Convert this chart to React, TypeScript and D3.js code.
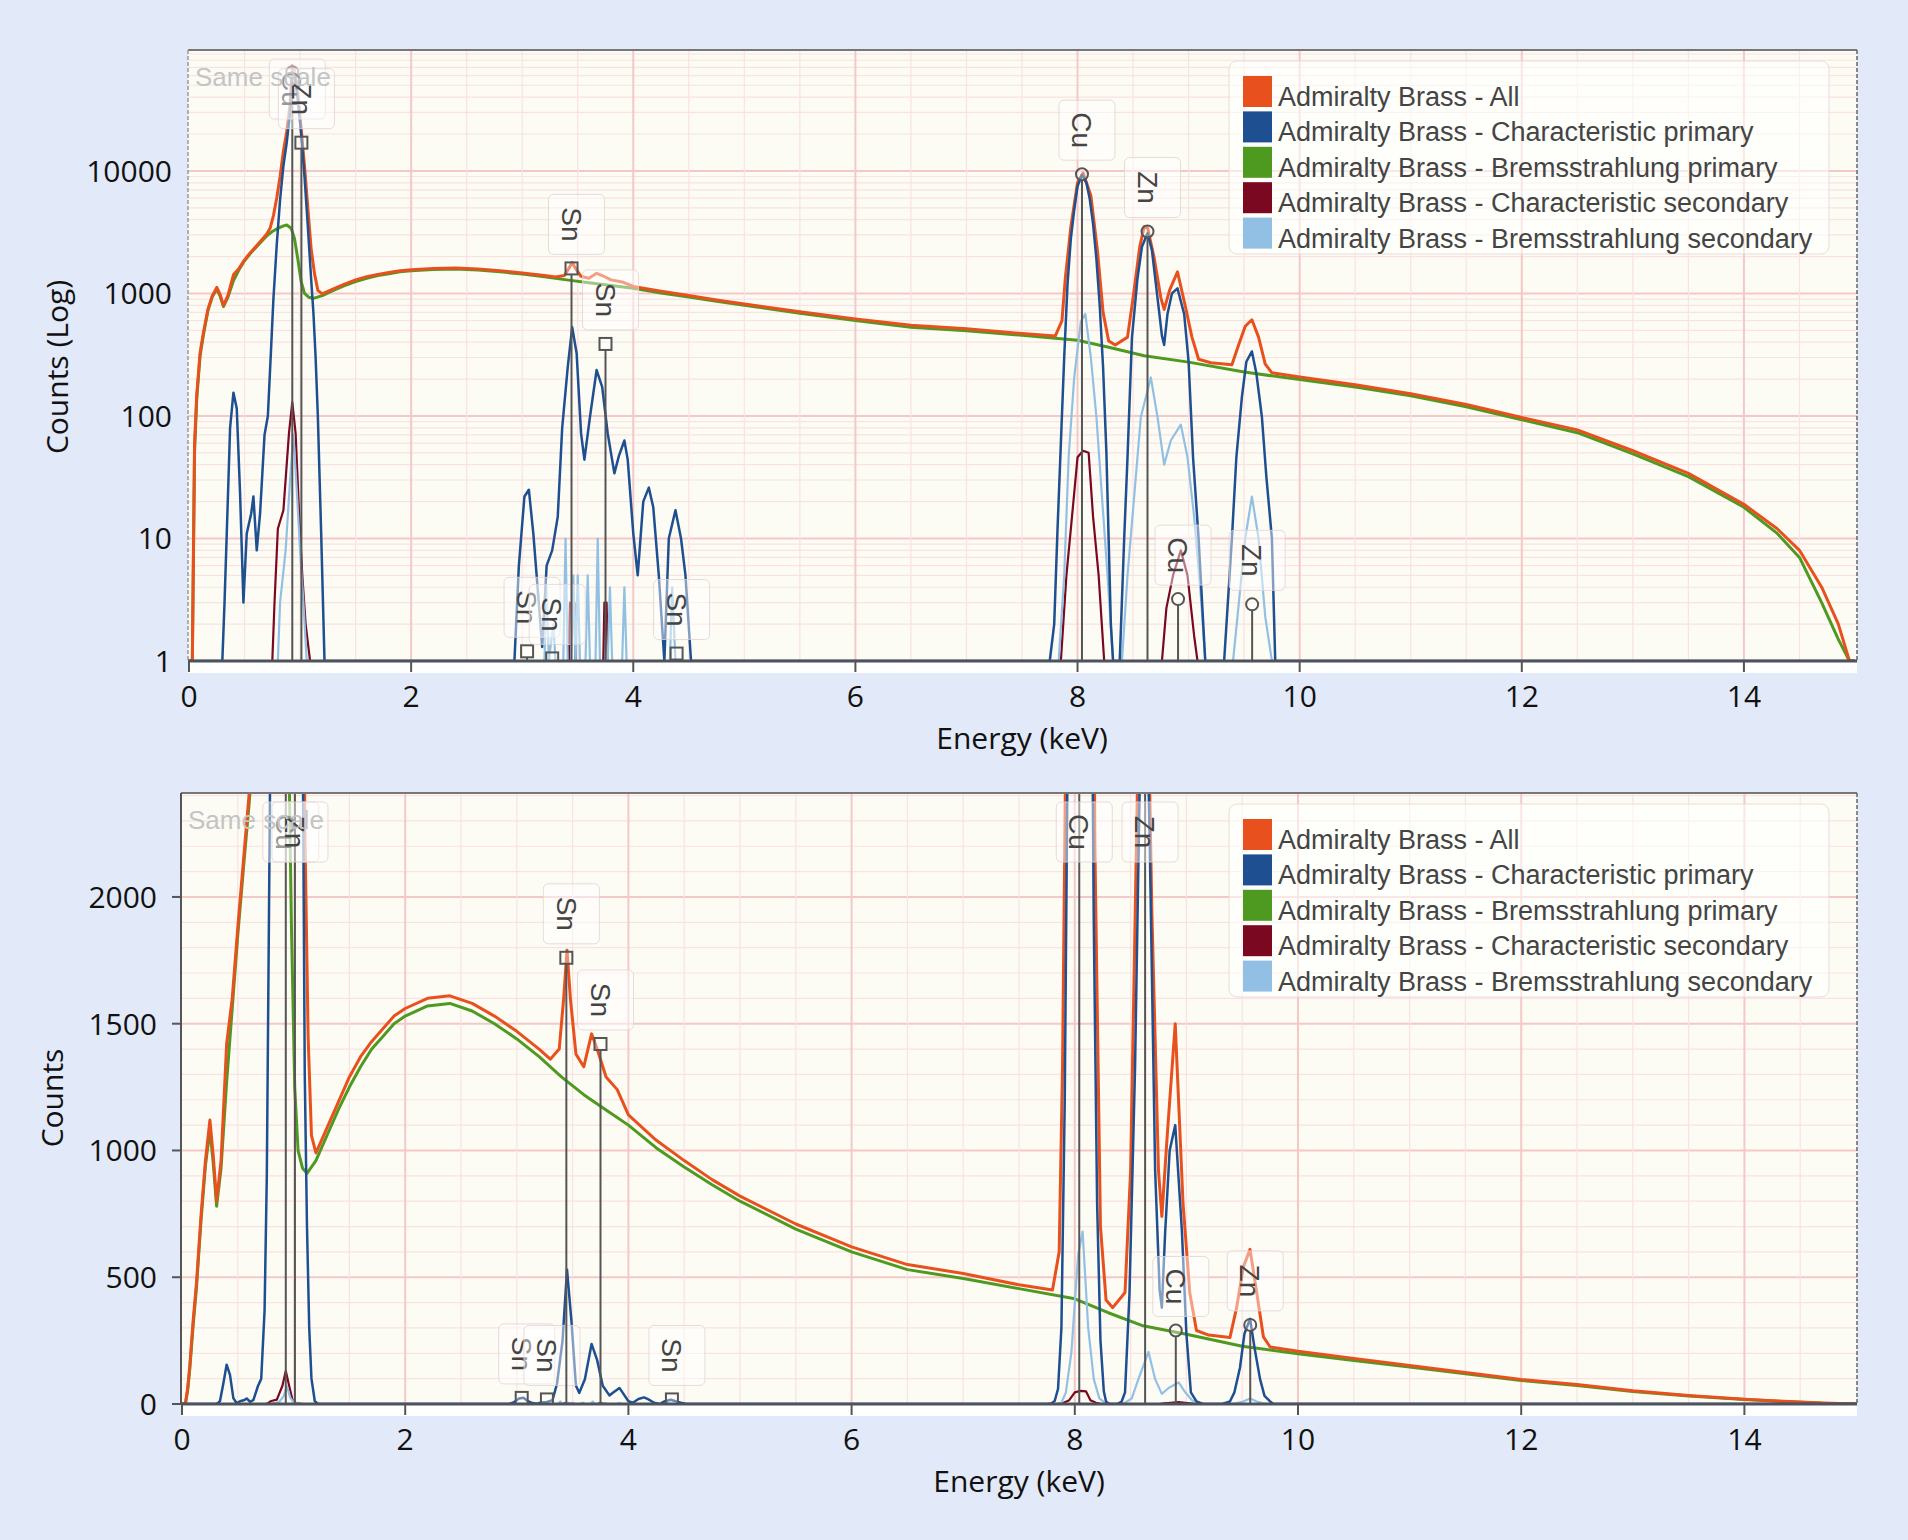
import React from 'react';
import * as d3 from 'd3';

type Pt = [number, number];

// spectra: [energy keV, counts]
const allSpectrum: Pt[] = [
  [0, 0], [0.03, 0], [0.05, 60], [0.07, 150], [0.1, 330], [0.13, 480], [0.17, 740], [0.21, 960], [0.25, 1120],
  [0.28, 980], [0.31, 800], [0.35, 960], [0.4, 1420], [0.45, 1600], [0.5, 1880], [0.55, 2140], [0.6, 2400],
  [0.65, 2700], [0.7, 3050], [0.73, 3400], [0.76, 4300], [0.79, 6000], [0.82, 9000], [0.85, 14500], [0.88, 21000],
  [0.91, 35000], [0.93, 72000], [0.95, 66000], [0.98, 42000], [1.01, 22000], [1.04, 11000], [1.07, 5000],
  [1.1, 2300], [1.13, 1450], [1.16, 1060], [1.2, 990], [1.3, 1090], [1.4, 1190], [1.5, 1290], [1.6, 1370],
  [1.7, 1430], [1.8, 1480], [1.9, 1530], [2.0, 1560], [2.2, 1600], [2.4, 1610], [2.6, 1580], [2.8, 1530],
  [3.0, 1470], [3.2, 1400], [3.3, 1360], [3.38, 1400], [3.42, 1600], [3.45, 1790], [3.48, 1600], [3.53, 1380],
  [3.6, 1330], [3.67, 1460], [3.72, 1400], [3.8, 1290], [3.9, 1240], [4.0, 1140], [4.25, 1040], [4.5, 960],
  [4.75, 885], [5.0, 820], [5.5, 710], [6.0, 620], [6.5, 550], [7.0, 515], [7.5, 470], [7.8, 450], [7.86, 600],
  [7.89, 1330], [7.94, 3500], [8.0, 8000], [8.05, 9600], [8.12, 6300], [8.18, 2200], [8.23, 700], [8.28, 410],
  [8.34, 380], [8.45, 440], [8.5, 920], [8.56, 2400], [8.6, 3500], [8.63, 3450], [8.69, 1950], [8.75, 920],
  [8.78, 740], [8.83, 1070], [8.9, 1500], [8.97, 790], [9.03, 440], [9.09, 290], [9.2, 272], [9.39, 262],
  [9.45, 380], [9.51, 540], [9.57, 610], [9.63, 440], [9.69, 265], [9.75, 225], [10.0, 208], [10.5, 180],
  [11.0, 152], [11.5, 124], [12.0, 97], [12.5, 77], [13.0, 52], [13.5, 34], [14.0, 19], [14.3, 12], [14.5, 8],
  [14.7, 4], [14.85, 2], [14.95, 1], [15, 1],
];

const charPrimary: Pt[] = [
  [0, 0], [0.3, 0], [0.32, 3], [0.34, 11], [0.37, 80], [0.4, 155], [0.43, 115], [0.46, 23], [0.49, 3], [0.52, 11],
  [0.56, 16], [0.58, 22], [0.61, 8], [0.64, 16], [0.68, 70], [0.71, 100], [0.74, 370], [0.76, 900], [0.79, 2500],
  [0.82, 5800], [0.85, 11000], [0.88, 17000], [0.91, 30000], [0.93, 65000], [0.95, 60000], [0.98, 38000],
  [1.01, 20000], [1.04, 9000], [1.07, 3500], [1.1, 1300], [1.12, 700], [1.14, 300], [1.16, 100], [1.19, 11],
  [1.22, 0],
  [2.93, 0], [2.97, 6], [3.02, 22], [3.06, 25], [3.1, 11], [3.13, 5], [3.18, 1.3], [3.22, 6], [3.27, 8],
  [3.32, 15], [3.36, 80], [3.41, 250], [3.45, 530], [3.49, 325], [3.53, 72], [3.56, 44], [3.61, 98],
  [3.67, 237], [3.72, 173], [3.77, 72], [3.83, 34], [3.87, 47], [3.92, 63], [3.95, 44], [4.0, 11], [4.04, 5],
  [4.09, 20], [4.14, 26], [4.18, 18], [4.23, 5], [4.28, 0], [4.32, 10], [4.38, 17], [4.43, 10], [4.47, 5],
  [4.52, 0],
  [7.75, 0], [7.79, 2], [7.82, 12], [7.85, 60], [7.88, 300], [7.91, 1200], [7.94, 2800], [7.97, 4800],
  [8.0, 7500], [8.04, 9300], [8.08, 8000], [8.11, 5900], [8.14, 3700], [8.17, 1900], [8.2, 790], [8.23, 250],
  [8.26, 50], [8.28, 10], [8.3, 2], [8.32, 0],
  [8.38, 0], [8.42, 10], [8.45, 46], [8.49, 436], [8.54, 1330], [8.58, 2400], [8.63, 3100], [8.67, 2250],
  [8.72, 920], [8.76, 450], [8.78, 380], [8.81, 680], [8.85, 1000], [8.9, 1100], [8.96, 680], [9.0, 277],
  [9.04, 46], [9.09, 10], [9.15, 0],
  [9.32, 0], [9.39, 10], [9.43, 46], [9.48, 143], [9.52, 277], [9.57, 336], [9.61, 223], [9.66, 98],
  [9.7, 32], [9.75, 10], [9.78, 0], [15, 0],
];

const bremsPrimary: Pt[] = [
  [0, 0], [0.03, 0], [0.05, 50], [0.07, 140], [0.1, 310], [0.13, 460], [0.17, 720], [0.21, 940], [0.25, 1080],
  [0.28, 950], [0.31, 780], [0.35, 930], [0.4, 1270], [0.45, 1560], [0.5, 1850], [0.55, 2110], [0.6, 2360],
  [0.65, 2640], [0.7, 2950], [0.75, 3200], [0.8, 3400], [0.85, 3560], [0.88, 3620], [0.92, 3400], [0.95, 2800],
  [0.98, 1900], [1.01, 1250], [1.04, 1000], [1.08, 930], [1.12, 910], [1.2, 960], [1.3, 1060], [1.4, 1160],
  [1.5, 1250], [1.6, 1330], [1.7, 1400], [1.8, 1450], [1.9, 1500], [2.0, 1530], [2.2, 1570], [2.4, 1580],
  [2.6, 1550], [2.8, 1500], [3.0, 1440], [3.2, 1370], [3.4, 1290], [3.6, 1220], [3.8, 1160], [4.0, 1100],
  [4.25, 1010], [4.5, 935], [4.75, 865], [5.0, 800], [5.5, 690], [6.0, 600], [6.5, 530], [7.0, 495],
  [7.5, 455], [8.0, 415], [8.3, 360], [8.6, 310], [9.0, 275], [9.5, 228], [10.0, 198], [10.5, 172],
  [11.0, 146], [11.5, 119], [12.0, 93], [12.5, 73], [13.0, 49], [13.5, 32], [14.0, 18], [14.3, 11], [14.5, 7],
  [14.7, 3], [14.85, 1.5], [14.95, 1], [15, 1],
];

const charSecondary: Pt[] = [
  [0.75, 0], [0.77, 3], [0.8, 12], [0.85, 17], [0.9, 72], [0.93, 130], [0.96, 72], [0.99, 17], [1.02, 5],
  [1.05, 2], [1.09, 0],
  [3.42, 0], [3.43, 3], [3.47, 3], [3.48, 0], [3.73, 0], [3.74, 3], [3.76, 3], [3.77, 0],
  [7.85, 0], [7.9, 5], [7.95, 15], [8.0, 46], [8.05, 52], [8.1, 50], [8.14, 15], [8.19, 5], [8.24, 0],
  [8.76, 0], [8.8, 2.7], [8.86, 5], [8.93, 8], [8.99, 5], [9.05, 1.6], [9.08, 0],
];

const bremsSecondary: Pt[] = [
  [0.8, 0], [0.82, 3], [0.87, 8], [0.91, 30], [0.94, 70], [0.97, 25], [1.0, 8], [1.03, 3], [1.06, 0],
  [3.2, 0], [3.22, 4], [3.24, 0], [3.28, 2], [3.3, 0], [3.37, 0], [3.39, 10], [3.41, 0], [3.44, 0], [3.46, 5],
  [3.48, 0], [3.5, 5], [3.52, 0], [3.57, 0], [3.59, 5], [3.61, 0], [3.66, 0], [3.68, 10], [3.7, 0], [3.77, 0],
  [3.79, 4], [3.81, 0], [3.9, 0], [3.92, 4], [3.94, 0], [4.33, 0], [4.35, 4], [4.38, 0],
  [7.83, 0], [7.88, 5], [7.92, 46], [7.97, 206], [8.03, 590], [8.07, 680], [8.12, 300], [8.17, 98],
  [8.22, 22], [8.27, 5], [8.32, 0],
  [8.4, 0], [8.45, 5], [8.51, 22], [8.57, 98], [8.66, 206], [8.72, 98], [8.78, 40], [8.84, 63], [8.93, 85],
  [8.99, 46], [9.05, 15], [9.11, 3.4], [9.15, 0],
  [9.4, 0], [9.44, 2.3], [9.51, 10], [9.57, 22], [9.63, 10], [9.69, 2.3], [9.75, 0],
];

const seriesNames = [
  'Admiralty Brass - All',
  'Admiralty Brass - Characteristic primary',
  'Admiralty Brass - Bremsstrahlung primary',
  'Admiralty Brass - Characteristic secondary',
  'Admiralty Brass - Bremsstrahlung secondary',
];
const seriesColors = ['#e8501e', '#1d4f91', '#4e9a20', '#7a0820', '#91c0e4'];
const seriesData = [allSpectrum, charPrimary, bremsPrimary, charSecondary, bremsSecondary];
const drawOrder = [2, 0, 3, 4, 1];

// element line markers
const lineEnergies = [0.93, 1.012, 3.044, 3.27, 3.444, 3.75, 4.39, 8.04, 8.63, 8.905, 9.572];
const lineElements = ['Cu', 'Zn', 'Sn', 'Sn', 'Sn', 'Sn', 'Sn', 'Cu', 'Zn', 'Cu', 'Zn'];
const lineShapes = ['circle', 'square', 'square', 'square', 'square', 'square', 'square', 'circle', 'circle', 'circle', 'circle'];
const lineCountsLog = [64000, 17000, 1.2, 1.05, 1600, 387, 1.15, 9400, 3200, 3.2, 2.9];
const lineCountsLinear = [64000, 17000, 24, 18, 1760, 1420, 18, 9400, 3200, 290, 312];

const xTicks = [0, 2, 4, 6, 8, 10, 12, 14];
const logTicks = [1, 10, 100, 1000, 10000];
const linTicks = [0, 500, 1000, 1500, 2000];

const panels = [
  { id: 'top', left: 188, right: 1857, top: 50, axisY: 661, x0: 189, x1: 1855, log: true,
    yTitle: 'Counts (Log)', yTitleX: 57, yTitleY: 367, yMax: 97000, ticks: logTicks, labelGap: 16, tickLen: 0 },
  { id: 'bottom', left: 181, right: 1857, top: 793, axisY: 1404, x0: 182, x1: 1856, log: false,
    yTitle: 'Counts', yTitleX: 52, yTitleY: 1098, yMax: 2410, ticks: linTicks, labelGap: 24, tickLen: 9 },
];

const axisFont = '"Open Sans", sans-serif';
const labelFont = '"Liberation Sans", Arial, sans-serif';

function Panel({ cfg }: { cfg: typeof panels[number] }) {
  const x = d3.scaleLinear().domain([0, 15]).range([cfg.x0, cfg.x1]);
  const y: any = cfg.log
    ? d3.scaleLog().domain([1, cfg.yMax]).range([cfg.axisY, cfg.top])
    : d3.scaleLinear().domain([0, cfg.yMax]).range([cfg.axisY, cfg.top]);
  const yv = (v: number) => y(cfg.log ? Math.max(v, 1) : v);
  const line = d3.line<Pt>().x(d => x(d[0])).y(d => yv(d[1]));
  const counts = cfg.log ? lineCountsLog : lineCountsLinear;

  const vGrid = d3.range(0.5, 15, 0.5);
  let hGrid: { v: number; major: boolean }[] = [];
  if (cfg.log) {
    [1, 10, 100, 1000, 10000].forEach(dec => {
      for (let m = 1; m <= 9; m++) {
        const v = dec * m;
        if (v > 1 && v < cfg.yMax) hGrid.push({ v, major: m === 1 });
      }
    });
  } else {
    hGrid = d3.range(100, cfg.yMax, 100).map(v => ({ v, major: v % 500 === 0 }));
  }

  const clipId = `clip-${cfg.id}`;
  const w = cfg.right - cfg.left;
  const legendLeft = cfg.right - 628;
  const legendTop = cfg.top + 11;

  return (
    <g>
      <defs>
        <clipPath id={clipId}>
          <rect x={cfg.left} y={cfg.top} width={w} height={cfg.axisY - cfg.top} />
        </clipPath>
      </defs>
      <rect x={cfg.left} y={cfg.top} width={w} height={cfg.axisY - cfg.top} fill="#fdfcf4" />
      <rect x={cfg.left} y={cfg.axisY} width={w} height={12} fill="#ffffff" />

      {/* grid */}
      {hGrid.map((g, i) => (
        <line key={`h${i}`} x1={cfg.left} x2={cfg.right} y1={y(g.v)} y2={y(g.v)}
          stroke={g.major ? '#f5c8c8' : '#fae2e2'} strokeWidth={g.major ? 2 : 1.2} />
      ))}
      {vGrid.map((e, i) => (
        <line key={`v${i}`} x1={x(e)} x2={x(e)} y1={cfg.top} y2={cfg.axisY}
          stroke={e % 2 === 0 ? '#f5c8c8' : '#fae2e2'} strokeWidth={e % 2 === 0 ? 2 : 1.2} />
      ))}

      {/* spectra */}
      <g clipPath={`url(#${clipId})`}>
        {drawOrder.map(k => (
          <path key={k} d={line(seriesData[k]) || ''} fill="none" stroke={seriesColors[k]}
            strokeWidth={k === 0 || k === 2 ? 3 : k === 1 ? 2.5 : 2.2} strokeLinejoin="round" />
        ))}
      </g>

      {/* element markers */}
      <g clipPath={`url(#${clipId})`}>
        {lineEnergies.map((e, i) => {
          const mx = x(e);
          const my = yv(counts[i]);
          const cy = Math.max(my - 44, cfg.top + 39);
          return (
            <g key={`m${i}`}>
              <line x1={mx} x2={mx} y1={Math.max(my + 6, cfg.top)} y2={cfg.axisY} stroke="#555" strokeWidth={2} />
              {lineShapes[i] === 'circle'
                ? <circle cx={mx} cy={my} r={6} fill="rgba(255,255,255,0.35)" stroke="#555" strokeWidth={2} />
                : <rect x={mx - 6} y={my - 6} width={12} height={12} fill="rgba(255,255,255,0.35)" stroke="#555" strokeWidth={2} />}
              <rect x={mx + 5 - 28} y={cy - 30} width={56} height={60} rx={5}
                fill="rgba(255,255,255,0.45)" stroke="rgba(225,210,210,0.8)" strokeWidth={1} />
              <text transform={`translate(${mx},${cy}) rotate(90)`} textAnchor="middle" dy="0.35em"
                fontSize={28} fill="#444" fontFamily={labelFont}>{lineElements[i]}</text>
            </g>
          );
        })}
      </g>

      {/* frame */}
      <line x1={cfg.left} x2={cfg.right} y1={cfg.top} y2={cfg.top} stroke="#777" strokeWidth={2} />
      <line x1={cfg.right} x2={cfg.right} y1={cfg.top} y2={cfg.axisY} stroke="#666" strokeWidth={1.5} strokeDasharray="4,2" />
      {cfg.log
        ? <line x1={cfg.left} x2={cfg.left} y1={cfg.top} y2={cfg.axisY} stroke="#999" strokeWidth={1.5} strokeDasharray="4,2" />
        : <line x1={cfg.left} x2={cfg.left} y1={cfg.top} y2={cfg.axisY} stroke="#555" strokeWidth={2} />}
      <line x1={cfg.left} x2={cfg.right} y1={cfg.axisY} y2={cfg.axisY} stroke="#4d525c" strokeWidth={3} />

      {/* x axis */}
      {xTicks.map(t => (
        <g key={`xt${t}`}>
          <line x1={x(t)} x2={x(t)} y1={cfg.axisY} y2={cfg.axisY + 11} stroke="#555" strokeWidth={2} />
          <text x={x(t)} y={cfg.axisY + 46} textAnchor="middle" fontSize={30} fontFamily={axisFont} fill="#111">{t}</text>
        </g>
      ))}
      <text x={(cfg.x0 + cfg.x1) / 2} y={cfg.axisY + 88} textAnchor="middle" fontSize={30}
        fontFamily={axisFont} fill="#111">Energy (keV)</text>

      {/* y axis */}
      {cfg.ticks.map(t => (
        <g key={`yt${t}`}>
          {cfg.tickLen > 0 && (
            <line x1={cfg.left - cfg.tickLen} x2={cfg.left} y1={y(t)} y2={y(t)} stroke="#555" strokeWidth={2} />
          )}
          <text x={cfg.left - cfg.labelGap} y={y(t)} dy="0.36em" textAnchor="end" fontSize={30}
            fontFamily={axisFont} fill="#111">{t}</text>
        </g>
      ))}
      <text transform={`translate(${cfg.yTitleX},${cfg.yTitleY}) rotate(-90)`} textAnchor="middle" dy="0.36em"
        fontSize={30} fontFamily={axisFont} fill="#111">{cfg.yTitle}</text>

      <text x={cfg.left + 7} y={cfg.top + 36} fontSize={26} fontFamily={labelFont} fill="#c4c4c4">Same scale</text>

      {/* legend */}
      <rect x={legendLeft} y={legendTop} width={600} height={193} rx={8}
        fill="rgba(255,255,255,0.55)" stroke="rgba(235,215,215,0.9)" strokeWidth={1} />
      {seriesNames.map((name, i) => (
        <g key={name}>
          <rect x={legendLeft + 14} y={legendTop + 15 + i * 35.4} width={29} height={31} fill={seriesColors[i]} />
          <text x={legendLeft + 49} y={legendTop + 45 + i * 35.4} fontSize={27} fontFamily={labelFont} fill="#444">{name}</text>
        </g>
      ))}
    </g>
  );
}

export default function App() {
  return (
    <svg width={1908} height={1540} style={{ position: 'absolute', left: 0, top: 0, display: 'block' }}>
      <rect x={0} y={0} width={1908} height={1540} fill="#e2e9f8" />
      {panels.map(p => <Panel key={p.id} cfg={p} />)}
    </svg>
  );
}
